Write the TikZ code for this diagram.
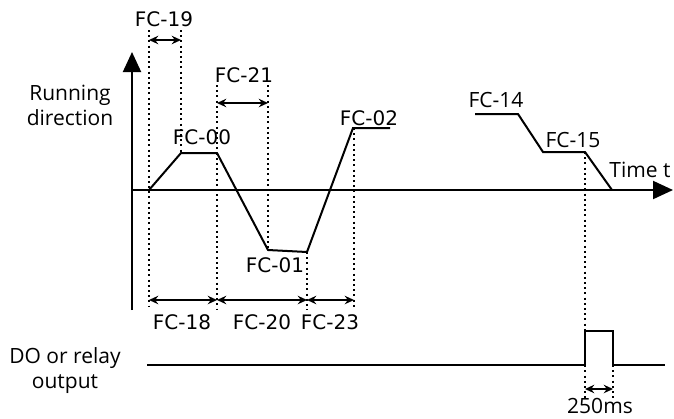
\documentclass[tikz,border=0pt]{standalone}
\usepackage{fontspec}
\setmainfont{Open Sans}
\newfontfamily\dejavu{DejaVu Sans}
\usetikzlibrary{arrows.meta,positioning}

\begin{document}
\begin{tikzpicture}[x=0.5pt,y=-0.5pt,
  axis/.style={line width=1pt,-{Triangle[length=10pt,width=9pt]}},
  curve/.style={line width=1pt},
  guide/.style={line width=1pt,dash pattern=on 1pt off 1.6pt},
  span/.style={line width=0.9pt,{Stealth[length=4.6pt,width=4.2pt]}-{Stealth[length=4.6pt,width=4.2pt]}},
  fclab/.style={font=\dejavu\fontsize{10}{12}\selectfont,inner sep=0pt},
  txt/.style={font=\fontsize{10.5}{12.5}\selectfont,inner sep=0pt,align=center}]
  \useasboundingbox (0,0) rectangle (674,418);
  % axes
  \coordinate (ybot) at (132,310);
  \coordinate (ytop) at (132,52);
  \coordinate (o) at (132,190);
  \coordinate (xend) at (673,190);
  \draw[axis] (ybot) -- (ytop);
  \draw[axis] (o) -- (xend);
  % running curve
  \coordinate (a0) at (149,190);
  \coordinate (a1) at (181,153);
  \coordinate (a2) at (217,153);
  \coordinate (a3) at (268,250);
  \coordinate (a4) at (307,252);
  \coordinate (a5) at (353,128);
  \coordinate (a6) at (390,128);
  \draw[curve] (a0) -- (a1) -- (a2) -- (a3) -- (a4) -- (a5) -- (a6);
  \coordinate (b0) at (475,114);
  \coordinate (b1) at (518,114);
  \coordinate (b2) at (543,152);
  \coordinate (b3) at (585,152);
  \coordinate (b4) at (612,190);
  \draw[curve] (b0) -- (b1) -- (b2) -- (b3) -- (b4);
  % dotted guides
  \draw[guide] (149,30) -- (149,307);
  \draw[guide] (181,30) -- (a1);
  \draw[guide] (217,85) -- (217,310);
  \draw[guide] (268,85) -- (a3);
  \draw[guide] (a4) -- (307,310);
  \draw[guide] (354,128) -- (354,310);
  \draw[guide] (b3) -- (585,400);
  \draw[guide] (613,365) -- (613,400);
  % spans
  \coordinate (s19a) at (149,40);  \coordinate (s19b) at (181,40);
  \coordinate (s21a) at (217,103); \coordinate (s21b) at (268,103);
  \coordinate (s18a) at (149,300); \coordinate (s18b) at (217,300);
  \coordinate (s20b) at (307,300); \coordinate (s23b) at (354,300);
  \coordinate (s250a) at (585,389); \coordinate (s250b) at (613,389);
  \draw[span] (s19a) -- (s19b);
  \draw[span] (s21a) -- (s21b);
  \draw[span] (s18a) -- (s18b);
  \draw[span] (s18b) -- (s20b);
  \draw[span] (s20b) -- (s23b);
  \draw[span] (s250a) -- (s250b);
  % relay output
  \coordinate (d0) at (147,365);
  \coordinate (d1) at (585,365);
  \coordinate (d2) at (585,331);
  \coordinate (d3) at (613,331);
  \coordinate (d4) at (613,365);
  \coordinate (d5) at (665,365);
  \draw[curve] (d0) -- (d1) -- (d2) -- (d3) -- (d4) -- (d5);
  % labels
  \node[fclab] (fc19) at (164,19) {FC-19};
  \node[fclab] (fc21) at (244,75) {FC-21};
  \node[fclab] (fc00) at (202,137) {FC-00};
  \node[fclab] (fc01) at (275,265) {FC-01};
  \node[fclab] (fc02) at (369,118) {FC-02};
  \node[fclab] (fc18) at (182,322) {FC-18};
  \node[fclab] (fc20) at (262,322) {FC-20};
  \node[fclab] (fc23) at (330,322) {FC-23};
  \node[txt] (fc14) at (496,100) {FC-14};
  \node[txt] (fc15) at (573,140) {FC-15};
  \node[txt] (time) at (640,170) {Time t};
  \node[txt] (dir) at (70,105) {Running\\direction};
  \node[txt] (relay) at (65,371) {DO or relay\\output};
  \node[txt] (ms) at (600,406) {250ms};
\end{tikzpicture}
\end{document}
